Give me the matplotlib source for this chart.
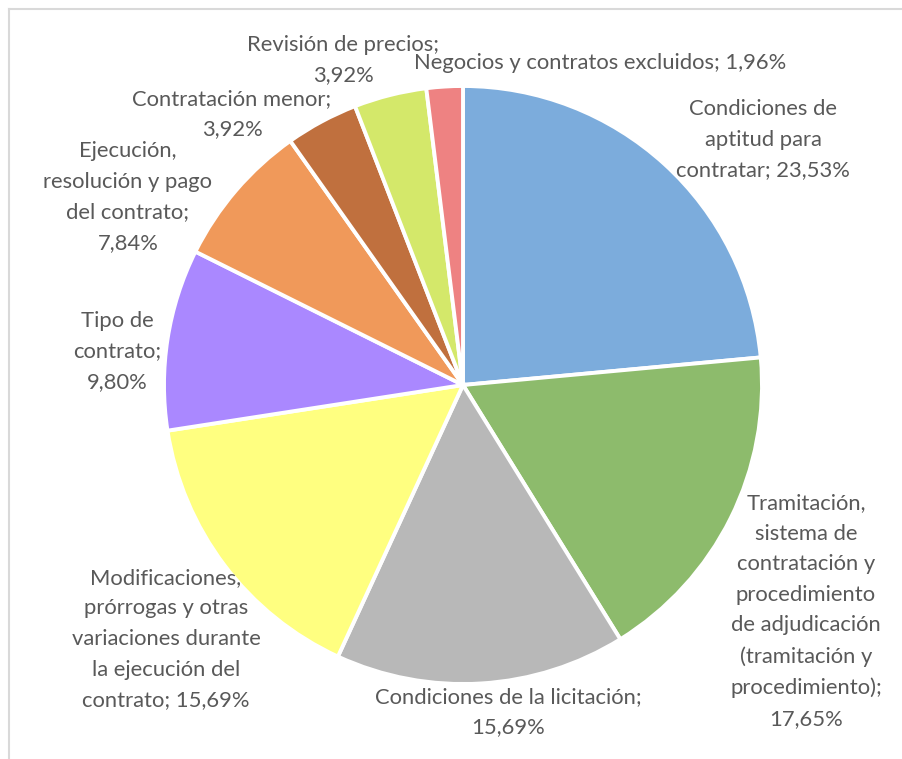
import matplotlib
matplotlib.use("Agg")
import matplotlib.pyplot as plt

labels = [
    "Condiciones de\naptitud para\ncontratar; 23,53%",
    "Tramitación,\nsistema de\ncontratación y\nprocedimiento\nde adjudicación\n(tramitación y\nprocedimiento);\n17,65%",
    "Condiciones de la licitación;\n15,69%",
    "Modificaciones,\nprórrogas y otras\nvariaciones durante\nla ejecución del\ncontrato; 15,69%",
    "Tipo de\ncontrato;\n9,80%",
    "Ejecución,\nresolución y pago\ndel contrato;\n7,84%",
    "Contratación menor;\n3,92%",
    "Revisión de precios;\n3,92%",
    "Negocios y contratos excluidos; 1,96%",
]
values = [23.53, 17.65, 15.69, 15.69, 9.80, 7.84, 3.92, 3.92, 1.96]
colors = ["#7cacdc", "#8dbb6c", "#b8b8b8", "#ffff80", "#aa88ff",
          "#f0995a", "#c0703e", "#d4e86a", "#ee8282"]

# label centres in pixel coords of the 903x759 image
label_pos = [(763, 140), (806, 611), (508, 712), (166, 639), (117, 352),
             (128, 197), (232, 114), (343, 60), (600, 63)]

W, H = 903, 759
fig = plt.figure(figsize=(W / 100, H / 100), dpi=100)
ax = fig.add_axes([0, 0, 1, 1])
ax.set_aspect("equal")
ax.axis("off")

# pie centre / radius in pixels
cx, cy, r = 463, H - 385, 299
ax.pie(values, colors=colors, startangle=90, counterclock=False,
       center=(cx, cy), radius=r, frame=False,
       wedgeprops=dict(edgecolor="white", linewidth=2.8))
ax.set_xlim(0, W)
ax.set_ylim(0, H)

for text, (px, py) in zip(labels, label_pos):
    ax.text(px, H - py, text, ha="center", va="center", fontsize=15.8,
            family="Lato", color="#595959", linespacing=1.66)

# chart border (top and left visible)
ax.plot([9, W], [H - 9, H - 9], color="#d9d9d9", lw=1.5, clip_on=False)
ax.plot([9, 9], [H - 9, 0], color="#d9d9d9", lw=1.5, clip_on=False)

fig.savefig("out.png", dpi=100)
